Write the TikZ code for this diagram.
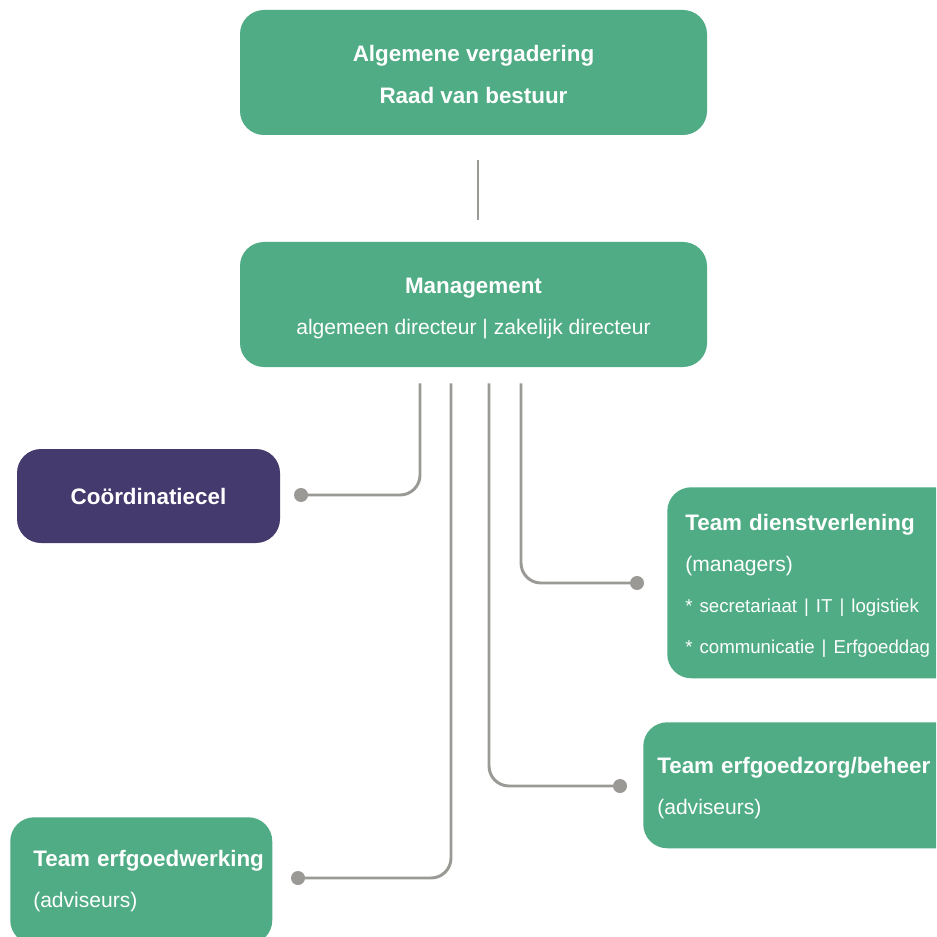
\documentclass[tikz,border=0pt]{standalone}
\usepackage{fontspec}
\setmainfont{Liberation Sans}
\usetikzlibrary{calc}
\definecolor{orggreen}{HTML}{4FAC84}
\definecolor{orgpurple}{HTML}{453A6E}
\definecolor{linkgrey}{HTML}{9A9995}
\tikzset{
  box/.style={fill=orggreen,rounded corners=18pt,text=white,inner sep=0pt},
  boldtxt/.style={font=\fontsize{16.8}{31.5}\selectfont\bfseries},
  link/.style={draw=linkgrey,line width=2.2pt,rounded corners=15pt},
}
\newcommand{\boxhead}[1]{\mbox{\bfseries\fontsize{16.8}{19}\selectfont #1}}
\newcommand{\boxsmall}[1]{{\fontsize{14}{16}\selectfont #1}}
\newcommand{\topstrut}[1]{\rule{0pt}{#1}}
\begin{document}
\begin{tikzpicture}[x=0.75pt,y=-0.75pt]
        \clip (0,0) rectangle (936,937);
        \fill[white] (0,0) rectangle (936,937);
        % boxes
        \node[box,boldtxt,align=center,minimum width=350.25pt,minimum height=93.75pt] (gov) at (473.5,72.5)
            {\topstrut{15pt}Algemene vergadering\\Raad van bestuur};
        \node[box,align=center,minimum width=350.25pt,minimum height=93.75pt,font=\fontsize{15.8}{31}\selectfont] (mgmt) at (473.5,304.5)
            {\topstrut{18pt}\boxhead{Management}\\algemeen directeur | zakelijk directeur};
        \node[box,boldtxt,fill=orgpurple,minimum width=197.25pt,minimum height=70.5pt] (coord) at (148.5,496) {Coördinatiecel};
        \node[box,anchor=north west,align=left,text width=205pt,inner xsep=13.5pt,minimum height=143.25pt,
              font=\fontsize{15.8}{30.75}\selectfont] (dienst) at (667,487)
            {\topstrut{17pt}\boxhead{Team dienstverlening}\\(managers)\\
             \boxsmall{* secretariaat | IT | logistiek}\\
             \boxsmall{* communicatie | Erfgoeddag}};
        \node[box,anchor=north west,align=left,text width=225pt,inner xsep=10.5pt,minimum height=94.5pt,
              font=\fontsize{15.8}{30.75}\selectfont] (zorg) at (643,722)
            {\topstrut{17pt}\boxhead{Team erfgoedzorg/beheer}\\(adviseurs)};
        \node[box,anchor=north west,align=left,text width=162pt,inner xsep=17.25pt,minimum height=95.25pt,
              font=\fontsize{15.8}{30.75}\selectfont] (werking) at (10,817)
            {\boxhead{Team erfgoedwerking}\\(adviseurs)};
        % connectors
        \coordinate (dcoord) at (301,495);
        \coordinate (ddienst) at (637,583);
        \coordinate (dzorg) at (620,786);
        \coordinate (dwerking) at (298,878);
        \draw[link] ($(gov.south)+(4.5,25)$) -- ($(mgmt.north)+(4.5,-22)$);
        \draw[link] ($(mgmt.south)+(-53.5,16)$) |- (dcoord);
        \draw[link] ($(mgmt.south)+(-22.5,16)$) |- (dwerking);
        \draw[link] ($(mgmt.south)+(15.5,16)$) |- (dzorg);
        \draw[link] ($(mgmt.south)+(47.5,16)$) |- (ddienst);
        \foreach \d in {dcoord,ddienst,dzorg,dwerking}
            \fill[linkgrey] (\d) circle (5.25pt);
\end{tikzpicture}
\end{document}
